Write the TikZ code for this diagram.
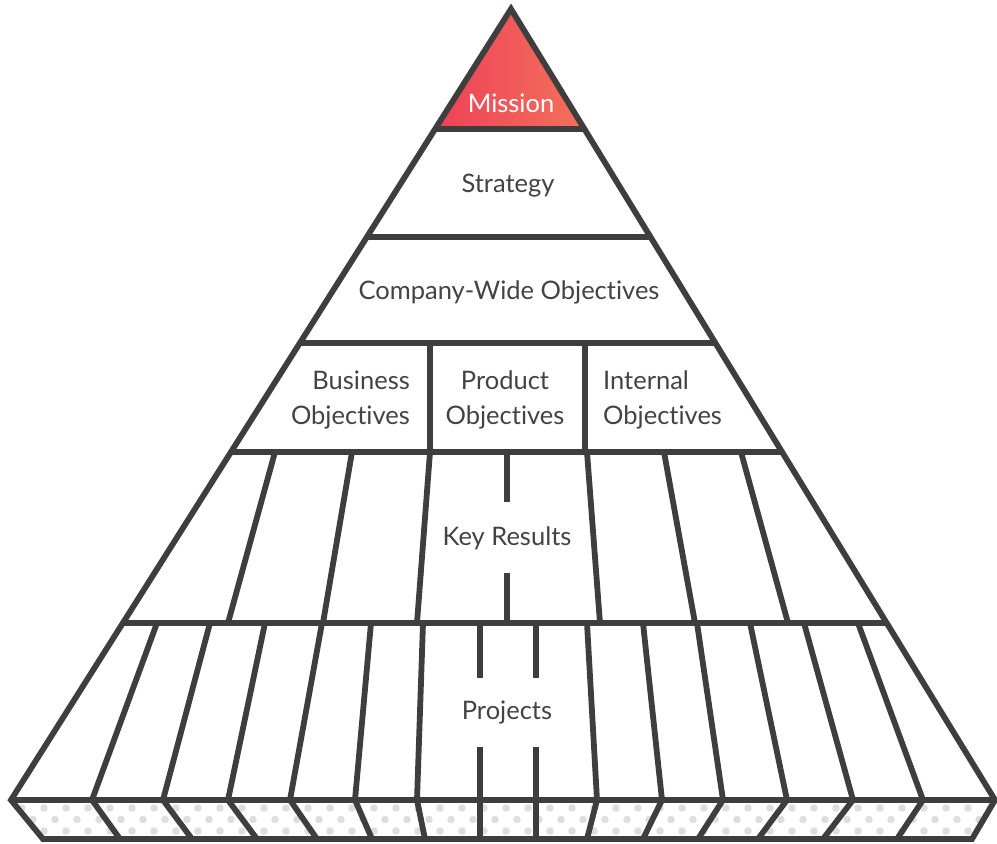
\documentclass[tikz,border=0pt]{standalone}
\usepackage{fontspec}
\setmainfont{Lato}[RawFeature={-liga;-dlig}]
\definecolor{linec}{HTML}{3E3E3E}
\definecolor{textc}{HTML}{434343}
\definecolor{dotc}{HTML}{DEDEDE}
\definecolor{redL}{HTML}{EE4157}
\definecolor{redR}{HTML}{F3715B}
\tikzset{
  edge/.style={draw=linec, line width=5.8pt, line join=miter},
  lbl/.style={text=textc, font=\fontsize{25.5}{35}\selectfont, inner sep=0pt},
}
\begin{document}
\begin{tikzpicture}[x=1pt,y=-1pt]
\useasboundingbox (0,0) rectangle (997,844);
% key points
\coordinate (apex) at (511,9);
\coordinate (L1) at (435.2,129); \coordinate (R1) at (584.4,129);
\coordinate (L2) at (366.9,237); \coordinate (R2) at (650.5,237);
\coordinate (L3) at (299.9,343); \coordinate (R3) at (715.4,343);
\coordinate (L4) at (231.0,452); \coordinate (R4) at (782.1,452);
\coordinate (L5) at (122.9,623); \coordinate (R5) at (886.7,623);
\coordinate (L6) at (11,800);    \coordinate (R6) at (995,800);
\coordinate (B1) at (43,839);    \coordinate (B2) at (972,839);
% mission fill
\shade[left color=redL, right color=redR] (apex) -- (L1) -- (R1) -- cycle;
% base dots
\begin{scope}
\clip (L6) -- (B1) -- (B2) -- (R6) -- cycle;
\foreach \j in {0,1,2}{
  \foreach \i in {0,...,45}{
    \fill[dotc] ({\i*22+11*mod(\j,2)},{808+11.5*\j}) circle (3.8pt);
  }
}
\end{scope}
% outline
\draw[edge] (L6) -- (apex) -- (R6) -- (B2) -- (B1) -- cycle;
% horizontal bands
\draw[edge] (L1) -- (R1);
\draw[edge] (L2) -- (R2);
\draw[edge] (L3) -- (R3);
\draw[edge] (L4) -- (R4);
\draw[edge] (L5) -- (R5);
\draw[edge] (L6) -- (R6);
% objectives dividers
\draw[edge] (430,343) -- (430,452);
\draw[edge] (585,343) -- (585,452);
% key results dividers
\foreach \a/\b in {275/228,352/323,430/417,587/600,664/695,741/788}{
  \draw[edge] (\a,452) -- (\b,623);
}
\draw[edge] (507,452) -- (507,502);
\draw[edge] (507,573) -- (507,623);
% project dividers
\foreach \a/\b in {157/92,210/163,265/228,322/290,371/355,423/417,587/597,643/662,697/723,750/787,804/853,858/923}{
  \draw[edge] (\a,623) -- (\b,800);
}
\foreach \x in {480,536}{
  \draw[edge] (\x,623) -- (\x,678);
  \draw[edge] (\x,747) -- (\x,839);
}
% base dividers
\foreach \a/\b in {92/120,163/192,228/257,290/317,355/372,417/425,597/587,662/643,723/698,787/758,853/823,923/897}{
  \draw[edge] (\a,800) -- (\b,839);
}
% labels
\node[lbl, text=white] (mission) at (511,103) {Mission};
\node[lbl] (strategy) at (508,186) {Strategy};
\node[lbl] (company) at (509,292) {Company-Wide Objectives};
\node[lbl, anchor=east, align=right] (business) at (410,400) {Business\\Objectives};
\node[lbl, align=center] (product) at (505,400) {Product\\Objectives};
\node[lbl, anchor=west, align=left] (internal) at (603,400) {Internal\\Objectives};
\node[lbl] (keyres) at (507,538) {Key Results};
\node[lbl] (projects) at (507,713) {Projects};
\end{tikzpicture}
\end{document}
